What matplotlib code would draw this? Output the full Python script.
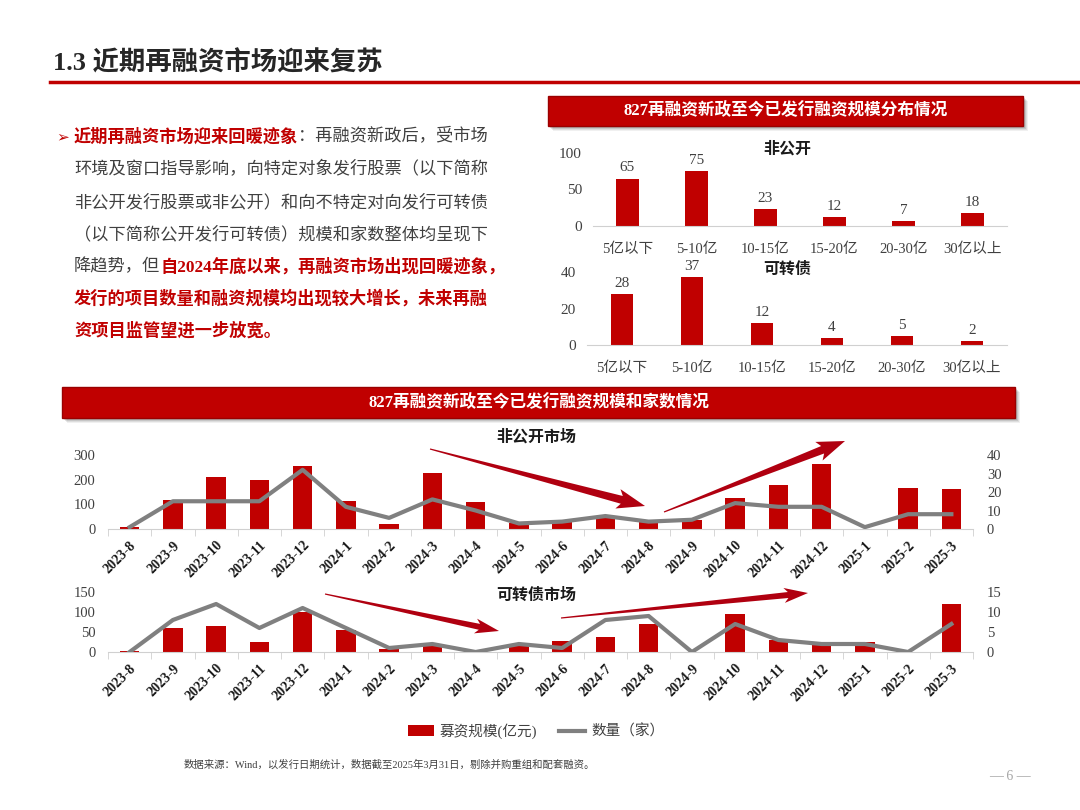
import matplotlib
matplotlib.use('Agg')
import matplotlib.pyplot as plt
from matplotlib.patches import Rectangle, Polygon, Patch
from matplotlib.lines import Line2D
import numpy as np

W, H = 1080, 810
RED = '#C00000'
GRAY = '#808080'
TXT = '#404040'
plt.rcParams['font.family'] = ['Liberation Serif', 'Noto Sans CJK SC', 'DejaVu Sans']

# distribution of issue size since the 827 policy
size_cats = ['5亿以下', '5-10亿', '10-15亿', '15-20亿', '20-30亿', '30亿以上']
private_dist = [65, 75, 23, 12, 7, 18]
convert_dist = [28, 37, 12, 4, 5, 2]

# monthly amount (亿元) and count (家)
months = ['2023-8', '2023-9', '2023-10', '2023-11', '2023-12', '2024-1', '2024-2',
          '2024-3', '2024-4', '2024-5', '2024-6', '2024-7', '2024-8', '2024-9',
          '2024-10', '2024-11', '2024-12', '2025-1', '2025-2', '2025-3']
private_amount = [7, 117, 210, 200, 257, 113, 22, 229, 108, 24, 38, 48, 28, 38,
                  124, 179, 264, 0, 168, 161]
private_count = [1, 15, 15, 15, 32, 12, 6, 16, 10, 3, 4, 7, 4, 5, 14, 12, 12, 1, 8, 8]
convert_amount = [2, 61, 66, 25, 99, 56, 7, 15, 0, 17, 27, 37, 70, 0, 95, 29, 19, 26, 0, 120]
convert_count = [0, 8, 12, 6, 11, 6, 1, 2, 0, 2, 1, 8, 9, 0, 7, 3, 2, 2, 0, 7]

fig = plt.figure(figsize=(W / 100, H / 100), dpi=100)
fig.patch.set_facecolor('white')


def fx(x):
    return x / W


def fy(y):
    return 1 - y / H


def box(x0, y0, x1, y1):
    return [fx(x0), fy(y1), (x1 - x0) / W, (y1 - y0) / H]


def banner(x0, y0, x1, y1, text, size=12):
    for k, a in [(5, 0.06), (4, 0.08), (3, 0.1), (2, 0.12)]:
        fig.add_artist(Rectangle((fx(x0 + k), fy(y1 + k)), (x1 - x0) / W, (y1 - y0) / H,
                                 transform=fig.transFigure, facecolor='black', alpha=a,
                                 edgecolor='none'))
    fig.add_artist(Rectangle((fx(x0), fy(y1)), (x1 - x0) / W, (y1 - y0) / H,
                             transform=fig.transFigure, facecolor=RED, edgecolor='#9a0000',
                             lw=1))
    fig.text(fx((x0 + x1) / 2), fy((y0 + y1) / 2), text, color='white', fontsize=size,
             fontweight='bold', ha='center', va='center')


def taper_arrow(x0, y0, x1, y1, shaft=7, head=18, head_len=22):
    p0 = np.array([x0, y0], float)
    p1 = np.array([x1, y1], float)
    d = p1 - p0
    u = d / np.hypot(*d)
    n = np.array([-u[1], u[0]])
    base = p1 - u * head_len
    pts = [p0 + n * 0.6, base + n * shaft / 2, base + n * head / 2 - u * 4, p1,
           base - n * head / 2 - u * 4, base - n * shaft / 2, p0 - n * 0.6]
    pts = [(fx(p[0]), fy(p[1])) for p in pts]
    fig.add_artist(Polygon(pts, closed=True, transform=fig.transFigure,
                           facecolor='#B00010', edgecolor='none', zorder=20))


def rich_line(x, y, parts, size=12.4):
    renderer = fig.canvas.get_renderer()
    for s, color, bold in parts:
        t = fig.text(fx(x), fy(y), s, color=color, fontsize=size,
                     fontweight='bold' if bold else 'normal', ha='left', va='center')
        x = t.get_window_extent(renderer).x1


# header
fig.text(fx(53), fy(63), '1.3 近期再融资市场迎来复苏', fontsize=19, fontweight='bold',
         color='#262626', ha='left', va='center')
fig.add_artist(Line2D([fx(50), fx(1080)], [fy(82), fy(82)], transform=fig.transFigure,
                      color=RED, lw=2.5))

# body text
fig.text(fx(56), fy(137), '➢', color=RED, fontsize=11, family=['DejaVu Sans'],
         ha='left', va='center')
rich_line(74, 137, [('近期再融资市场迎来回暖迹象', RED, True), ('：再融资新政后，受市场', TXT, False)])
rich_line(74, 170, [('环境及窗口指导影响，向特定对象发行股票（以下简称', TXT, False)])
rich_line(74, 203, [('非公开发行股票或非公开）和向不特定对向发行可转债', TXT, False)])
rich_line(74, 235, [('（以下简称公开发行可转债）规模和家数整体均呈现下', TXT, False)])
rich_line(74, 267, [('降趋势，但', TXT, False), ('自2024年底以来，再融资市场出现回暖迹象，', RED, True)])
rich_line(74, 299, [('发行的项目数量和融资规模均出现较大增长，未来再融', RED, True)])
rich_line(74, 331, [('资项目监管望进一步放宽。', RED, True)])

# top-right distribution charts
banner(548, 96, 1023, 126, '827再融资新政至今已发行融资规模分布情况', size=12)


def dist_chart(rect, values, ymax, yticks, title, title_y):
    ax = fig.add_axes(rect)
    x = np.arange(len(size_cats))
    bars = ax.bar(x, values, width=0.32, color=RED)
    ax.bar_label(bars, padding=3, fontsize=11, color=TXT)
    ax.set_xlim(-0.5, len(size_cats) - 0.5)
    ax.set_ylim(0, ymax)
    ax.set_yticks(yticks)
    ax.set_xticks(x)
    ax.set_xticklabels(size_cats)
    ax.tick_params(axis='x', length=0, labelsize=10.5, labelcolor=TXT, pad=12)
    ax.tick_params(axis='y', length=0, labelsize=11, labelcolor=TXT, pad=8)
    for s in ['top', 'left', 'right']:
        ax.spines[s].set_visible(False)
    ax.spines['bottom'].set_color('#d0d0d0')
    ax.patch.set_alpha(0)
    fig.text(fx(787), fy(title_y), title, fontsize=11.5, fontweight='bold',
             color='#1a1a1a', ha='center', va='center')
    return ax


dist_chart(box(593, 153, 1007, 226), private_dist, 100, [0, 50, 100], '非公开', 150)
dist_chart(box(587, 272, 1007, 345), convert_dist, 40, [0, 20, 40], '可转债', 270)

# bottom monthly charts
banner(62, 387, 1015, 418, '827再融资新政至今已发行融资规模和家数情况', size=12)


def month_chart(rect, amount, count, ymax, yticks, cmax, cticks, title, title_y):
    ax = fig.add_axes(rect)
    x = np.arange(len(months))
    ax.bar(x, amount, width=0.45, color=RED)
    ax.set_xlim(-0.5, len(months) - 0.5)
    ax.set_ylim(0, ymax)
    ax.set_yticks(yticks)
    ax.set_xticks(x)
    ax.set_xticklabels(months, rotation=45, ha='right', rotation_mode='anchor',
                       fontweight='bold', fontsize=10)
    ax.set_xticks(np.arange(len(months) + 1) - 0.5, minor=True)
    ax.tick_params(axis='x', which='major', length=0, pad=7, labelcolor='#1a1a1a')
    ax.tick_params(axis='x', which='minor', length=5, color='#d0d0d0', direction='out')
    ax.tick_params(axis='y', length=0, labelsize=10.5, labelcolor=TXT, pad=9)
    for s in ['top', 'left', 'right']:
        ax.spines[s].set_visible(False)
    ax.spines['bottom'].set_color('#d0d0d0')
    ax.patch.set_alpha(0)

    ax2 = ax.twinx()
    ax2.plot(x, count, color=GRAY, lw=3)
    ax2.set_ylim(0, cmax)
    ax2.set_yticks(cticks)
    ax2.tick_params(axis='y', length=0, labelsize=10.5, labelcolor=TXT, pad=10)
    for s in ax2.spines.values():
        s.set_visible(False)
    fig.text(fx(536), fy(title_y), title, fontsize=11.5, fontweight='bold',
             color='#1a1a1a', ha='center', va='center')
    return ax


month_chart(box(108, 455, 973, 529), private_amount, private_count, 300, [0, 100, 200, 300],
            40, [0, 10, 20, 30, 40], '非公开市场', 438)
month_chart(box(108, 592, 973, 652), convert_amount, convert_count, 150, [0, 50, 100, 150],
            15, [0, 5, 10, 15], '可转债市场', 596)

# trend arrows
taper_arrow(430, 449, 645, 506, shaft=8, head=20, head_len=24)
taper_arrow(664, 512, 845, 441, shaft=8, head=20, head_len=24)
taper_arrow(325, 594, 499, 631, shaft=6, head=15, head_len=20)
taper_arrow(561, 618, 808, 593, shaft=6, head=15, head_len=20)

# legend
handles = [Patch(facecolor=RED, edgecolor='none'), Line2D([], [], color=GRAY, lw=3)]
fig.legend(handles, ['募资规模(亿元)', '数量（家）'], loc='center',
           bbox_to_anchor=(fx(536), fy(731)), ncol=2, frameon=False, fontsize=10.5,
           handlelength=1.8, columnspacing=1.5, handletextpad=0.4, labelcolor=TXT)

# footer
fig.text(fx(184), fy(765), '数据来源：Wind，以发行日期统计，数据截至2025年3月31日，剔除并购重组和配套融资。',
         fontsize=7.5, color=TXT, ha='left', va='center')
fig.text(fx(1010), fy(777), '— 6 —', fontsize=10, color='#a6a6a6', ha='center', va='center')

fig.savefig('out.png', dpi=100, facecolor='white')
